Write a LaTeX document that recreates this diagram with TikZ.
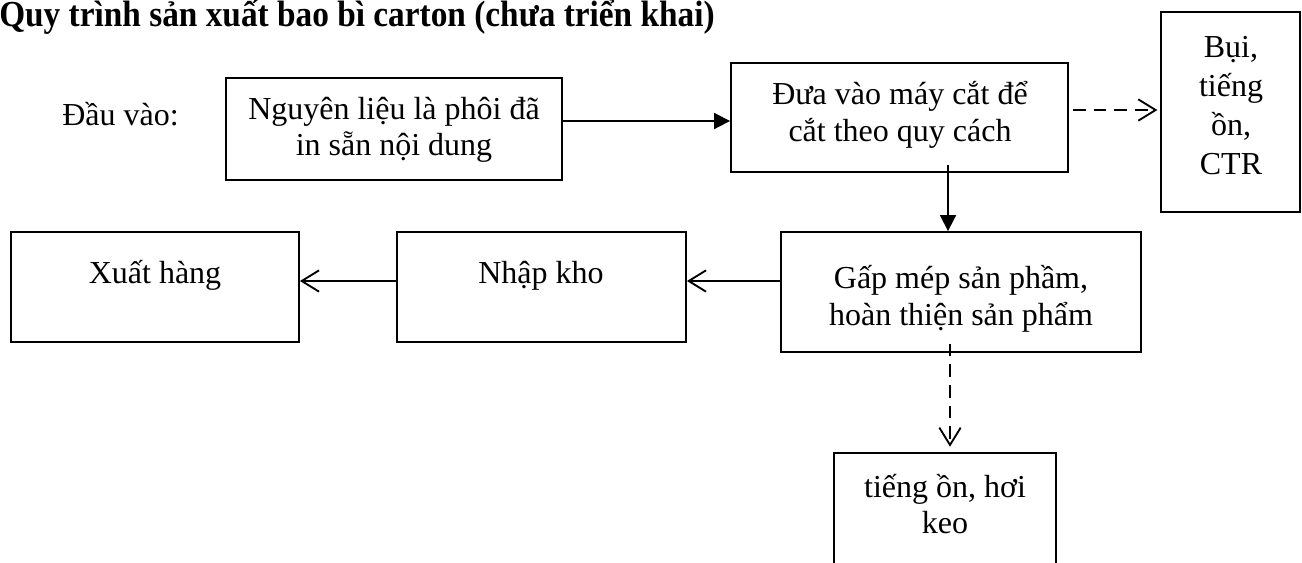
\documentclass[tikz,border=0pt]{standalone}
\usepackage{fontspec}
\setmainfont{Liberation Serif}
\usetikzlibrary{arrows.meta,fit}
\begin{document}
\begin{tikzpicture}[x=0.75pt,y=-0.75pt,
  box/.style={draw, line width=1.4pt, inner sep=0pt},
  txt/.style={font=\fontsize{24}{27.75}\selectfont, inner sep=0pt, anchor=base},
  flow/.style={line width=1.4pt, -{Triangle[length=12pt,width=12pt]}},
  flowopen/.style={line width=1.4pt, -{Straight Barb[length=13pt,width=16pt,line width=1.4pt]}},
  waste/.style={flowopen, dash pattern=on 9.5pt off 6pt}]
\useasboundingbox (0,0) rectangle (1302,562);
\clip (0,0) rectangle (1302,562);

% heading (slightly tall bold face, touching the top edge)
\node[font=\bfseries\fontsize{25}{30}\selectfont, anchor=base west, inner sep=0pt]
  (title) at (-1,26) {\scalebox{1}[1.1]{Quy trình sản xuất bao bì carton (chưa triển khai)}};

% process boxes
\node[box, fit={(226,78) (562,180)}]   (b1) {};
\node[box, fit={(731,63) (1068,172)}]  (b2) {};
\node[box, fit={(1161,12) (1300,212)}] (b3) {};
\node[box, fit={(781,232) (1141,352)}] (b4) {};
\node[box, fit={(397,232) (686,342)}]  (bn) {};
\node[box, fit={(11,232) (299,342)}]   (bx) {};
\node[box, fit={(834,453) (1056,600)}] (b5) {};

% labels
\node[txt, anchor=base west] (lin) at (62,125) {Đầu vào:};
\node[txt] (t1a) at (394,119) {Nguyên liệu là phôi đã};
\node[txt] (t1b) at (394,155) {in sẵn nội dung};
\node[txt] (t2a) at (900,104) {Đưa vào máy cắt để};
\node[txt] (t2b) at (900,141) {cắt theo quy cách};
\node[txt] (t3a) at (1231,57)  {Bụi,};
\node[txt] (t3b) at (1231,96)  {tiếng};
\node[txt] (t3c) at (1231,135) {ồn,};
\node[txt] (t3d) at (1231,174) {CTR};
\node[txt] (t4a) at (961,288) {Gấp mép sản phầm,};
\node[txt] (t4b) at (961,325) {hoàn thiện sản phẩm};
\node[txt] (tn)  at (541,283) {Nhập kho};
\node[txt] (tx)  at (155,283) {Xuất hàng};
\node[txt] (t5a) at (945,497) {tiếng ồn, hơi};
\node[txt] (t5b) at (945,533) {keo};

% guide rows/columns for the connectors
\coordinate (r1) at (0,121);
\coordinate (r2) at (0,110);
\coordinate (r3) at (0,281);
\coordinate (c1) at (948,0);
\coordinate (c2) at (950,0);

% main flow
\draw[flow] (b1.east |- r1) -- (b2.west |- r1);
\draw[flow] ([yshift=6pt]b2.south -| c1) -- (b4.north -| c1);
\draw[flowopen] (b4.west |- r3) -- (bn.east |- r3);
\draw[flowopen] (bn.west |- r3) -- (bx.east |- r3);

% emissions
\draw[waste, shorten <=3pt, shorten >=2pt] (b2.east |- r2) -- (b3.west |- r2);
\draw[waste, shorten >=4pt] ([yshift=7pt]b4.south -| c2) -- (b5.north -| c2);
\end{tikzpicture}
\end{document}
